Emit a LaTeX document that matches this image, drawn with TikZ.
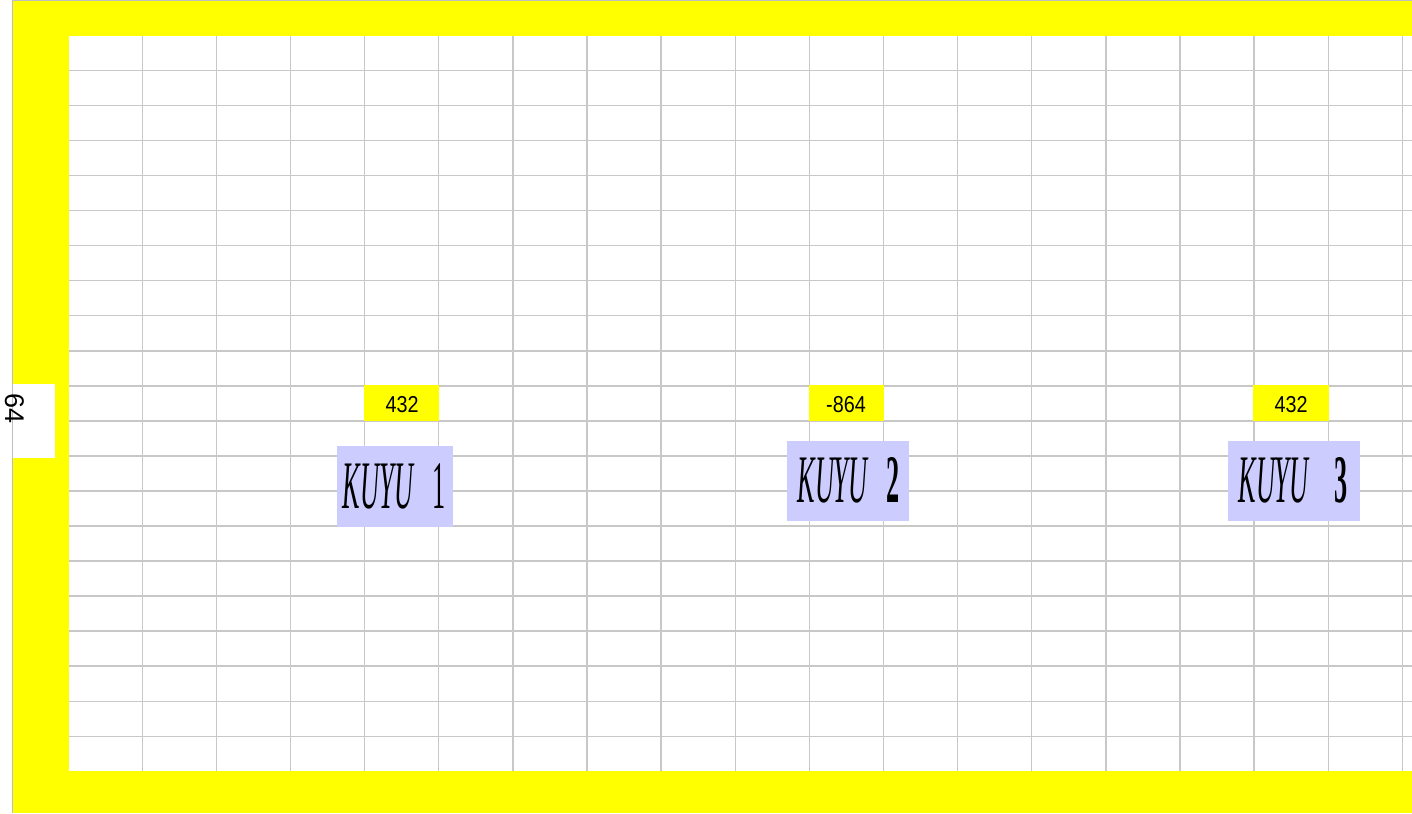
\documentclass[tikz,border=0pt]{standalone}
\usepackage{fontspec}
\setmainfont{Liberation Serif}
\newfontfamily\labfont{Liberation Sans}
\definecolor{gridgray}{RGB}{200,200,200}
\definecolor{edgegray}{RGB}{190,190,190}
\definecolor{kuyublue}{RGB}{204,204,255}
\definecolor{frameyellow}{RGB}{255,255,0}
\newcommand{\kuyuword}{\scalebox{0.386}[1]{\fontsize{68}{68}\selectfont\itshape KUYU}}
\newcommand{\kuyunum}[1]{\scalebox{0.386}[1]{\fontsize{68}{68}\selectfont #1}}
\begin{document}
\begin{tikzpicture}[x=1pt,y=-1pt,
  gridline/.style={draw=gridgray,line width=1.4pt},
  valuelabel/.style={fill=frameyellow,inner sep=0pt,anchor=north west,
    font=\labfont\fontsize{23}{23}\selectfont},
  wellbox/.style={fill=kuyublue,inner sep=0pt,anchor=north west},
  welltext/.style={inner sep=0pt,anchor=base}]
\useasboundingbox (0,0) rectangle (1412,813);
% yellow frame and white field
\fill[frameyellow] (13,1) rectangle (1412,813);
\fill[white] (69,36) rectangle (1412,771);
% outer grey edges
\draw[edgegray,line width=1pt] (12.5,813) -- (12.5,0.5) -- (1412,0.5);
% grid
\foreach \k in {0,...,19} {
  \draw[gridline] (69,{70.5+35.04*\k}) -- (1412,{70.5+35.04*\k});
}
\foreach \k in {0,...,17} {
  \draw[gridline] ({142.3+74.12*\k},36) -- ({142.3+74.12*\k},771);
}
% side label
\node[fill=white,inner sep=0pt,anchor=north west,minimum width=42pt,minimum height=74pt] (sidebox) at (13,384) {};
\node[inner sep=0pt,rotate=-90,font=\labfont\fontsize{27}{27}\selectfont] (sidenum) at (14.5,409) {64};
% value labels
\node[valuelabel,minimum width=75pt,minimum height=36pt] (v1) at (364,385) {};
\node[inner sep=0pt,font=\labfont\fontsize{23}{23}\selectfont] (v1t) at (402,405) {\scalebox{0.86}[1]{432}};
\node[valuelabel,minimum width=75pt,minimum height=36pt] (v2) at (809,385) {};
\node[inner sep=0pt,font=\labfont\fontsize{23}{23}\selectfont] (v2t) at (846,405) {\scalebox{0.86}[1]{-864}};
\node[valuelabel,minimum width=76pt,minimum height=36pt] (v3) at (1253,385) {};
\node[inner sep=0pt,font=\labfont\fontsize{23}{23}\selectfont] (v3t) at (1291,405) {\scalebox{0.86}[1]{432}};
% well boxes
\node[wellbox,minimum width=116pt,minimum height=81pt] (k1) at (337,446) {};
\node[welltext] (k1w) at (378,508) {\kuyuword};
\node[welltext] (k1n) at (439.5,508) {\kuyunum{1}};
\node[wellbox,minimum width=122pt,minimum height=80pt] (k2) at (787,441) {};
\node[welltext] (k2w) at (832.5,502) {\kuyuword};
\node[welltext] (k2n) at (893,502) {\kuyunum{\bfseries 2}};
\node[wellbox,minimum width=132pt,minimum height=80pt] (k3) at (1228,441) {};
\node[welltext] (k3w) at (1273.5,502) {\kuyuword};
\node[welltext] (k3n) at (1341,502) {\kuyunum{\bfseries 3}};
\end{tikzpicture}
\end{document}
